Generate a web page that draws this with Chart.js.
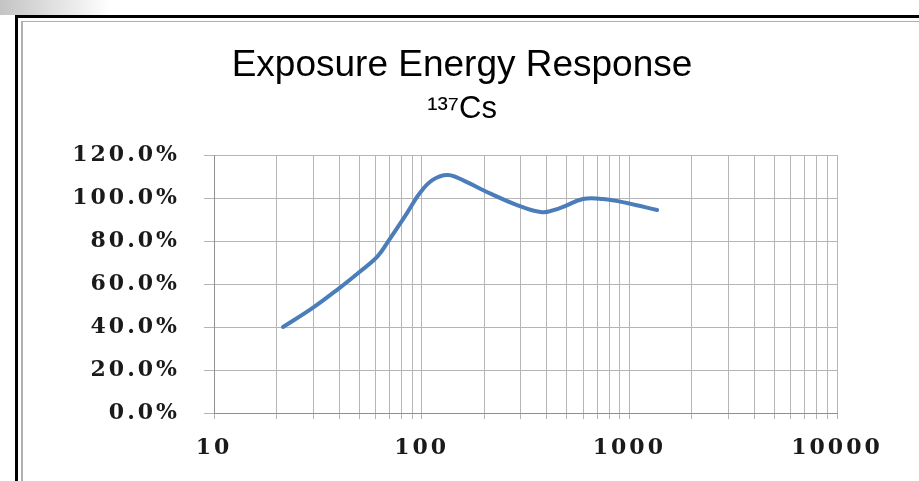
<!DOCTYPE html>
<html>
<head>
<meta charset="utf-8">
<script src="https://cdn.jsdelivr.net/npm/chart.js@4"></script>
<style>
html,body{margin:0;padding:0;background:#fff;}
#wrap{position:relative;width:919px;height:481px;overflow:hidden;background:#fff;}
#c{position:absolute;left:0;top:0;}
.fr{position:absolute;pointer-events:none;}
</style>
</head>
<body>
<div id="wrap">
<canvas id="c" width="919" height="481"></canvas>
<div class="fr" style="left:0;top:0;width:110px;height:15px;background:linear-gradient(to right,#c4c4c4,rgba(255,255,255,0))"></div>
<div class="fr" style="left:15px;top:15px;right:0;height:3px;background:#000"></div>
<div class="fr" style="left:15px;top:15px;width:3px;bottom:0;background:#000"></div>
<div class="fr" style="left:21px;top:21px;right:0;height:1px;background:#b0b0b0"></div>
<div class="fr" style="left:21px;top:21px;width:2px;bottom:0;background:#b0b0b0"></div>
</div>
<script>
// Photon energy (keV) and relative exposure response (%)
const energiesKeV = [21.5, 30, 40, 50, 61, 70, 85, 98, 113, 134, 165, 197, 288, 380, 463, 598, 747, 972, 1360];
const responsePct = [40, 49, 58, 65.5, 72.6, 80.8, 93, 102.3, 108.4, 110.7, 107.4, 103.7, 96.7, 93.4, 95.3, 99.5, 99.5, 97.7, 94.4];
const yTickValues = [0, 20, 40, 60, 80, 100, 120];
const xTickLabels = ['10', '100', '1000', '10000'];
const xDecades = [10, 100, 1000];
const xMultipliers = [1, 2, 3, 4, 5, 6, 7, 8, 9];

const xGridValues = [];
xDecades.forEach(d => xMultipliers.forEach(m => xGridValues.push(d * m)));
xGridValues.push(10000);

const points = energiesKeV.map((e, i) => ({x: e, y: responsePct[i]}));

const tickFont = {family: "'DejaVu Serif', 'Liberation Serif', serif", size: 22, weight: 'bold'};
const LETTER_SP = 3;

const spacingPlugin = {
  id: 'tickLetterSpacing',
  beforeDraw(chart) {
    Object.values(chart.scales).forEach(sc => {
      if (sc._lsPatched) return;
      const orig = sc.drawLabels;
      sc._computeLabelArea = function () { return undefined; };
      sc.drawLabels = function (area) {
        const ctx = this.ctx;
        const prev = ctx.letterSpacing;
        ctx.letterSpacing = LETTER_SP + 'px';
        orig.call(this, area);
        ctx.letterSpacing = prev || '0px';
      };
      sc._lsPatched = true;
    });
  }
};

new Chart(document.getElementById('c'), {
  type: 'line',
  data: {
    datasets: [{
      data: points,
      borderColor: '#4a7dba',
      borderWidth: 4,
      pointRadius: 0,
      fill: false,
      tension: 0.4,
      borderCapStyle: 'round',
      borderJoinStyle: 'round'
    }]
  },
  options: {
    responsive: false,
    animation: false,
    devicePixelRatio: 1,
    layout: {padding: {left: 87, right: 82, top: 0, bottom: 0}},
    plugins: {
      legend: {display: false},
      tooltip: {enabled: false},
      title: {
        display: true,
        text: 'Exposure Energy Response',
        color: '#000',
        font: {family: "'Liberation Sans', Arial, sans-serif", size: 37, weight: 'normal', lineHeight: 1.2},
        padding: {top: 44, bottom: 0}
      },
      subtitle: {
        display: true,
        text: '¹³⁷Cs',
        color: '#000',
        font: {family: "'Liberation Sans', Arial, sans-serif", size: 31, weight: 'normal', lineHeight: 1.2},
        padding: {top: 2, bottom: 27.4}
      }
    },
    scales: {
      x: {
        type: 'logarithmic',
        min: 10,
        max: 10000,
        afterBuildTicks(scale) { scale.ticks = xGridValues.map(v => ({value: v})); },
        afterFit(scale) { scale.height = 68; },
        ticks: {
          autoSkip: false,
          maxRotation: 0,
          minRotation: 0,
          padding: 16,
          color: '#1a1a1a',
          font: tickFont,
          callback(value) {
            const s = String(Math.round(value));
            return xTickLabels.includes(s) ? s : '';
          }
        },
        grid: {color: '#b5b5b5', lineWidth: 1, tickLength: 6, drawTicks: true},
        border: {color: '#8f8f8f', width: 1}
      },
      y: {
        min: 0,
        max: 120,
        afterBuildTicks(scale) { scale.ticks = yTickValues.map(v => ({value: v})); },
        afterFit(scale) { scale.width = 127; },
        ticks: {
          padding: 27 - LETTER_SP,
          color: '#1a1a1a',
          font: tickFont,
          callback(value) { return value.toFixed(1) + '%'; }
        },
        grid: {color: '#b5b5b5', lineWidth: 1, tickLength: 10, drawTicks: true},
        border: {color: '#8f8f8f', width: 1}
      }
    }
  },
  plugins: [spacingPlugin]
});
</script>
</body>
</html>
